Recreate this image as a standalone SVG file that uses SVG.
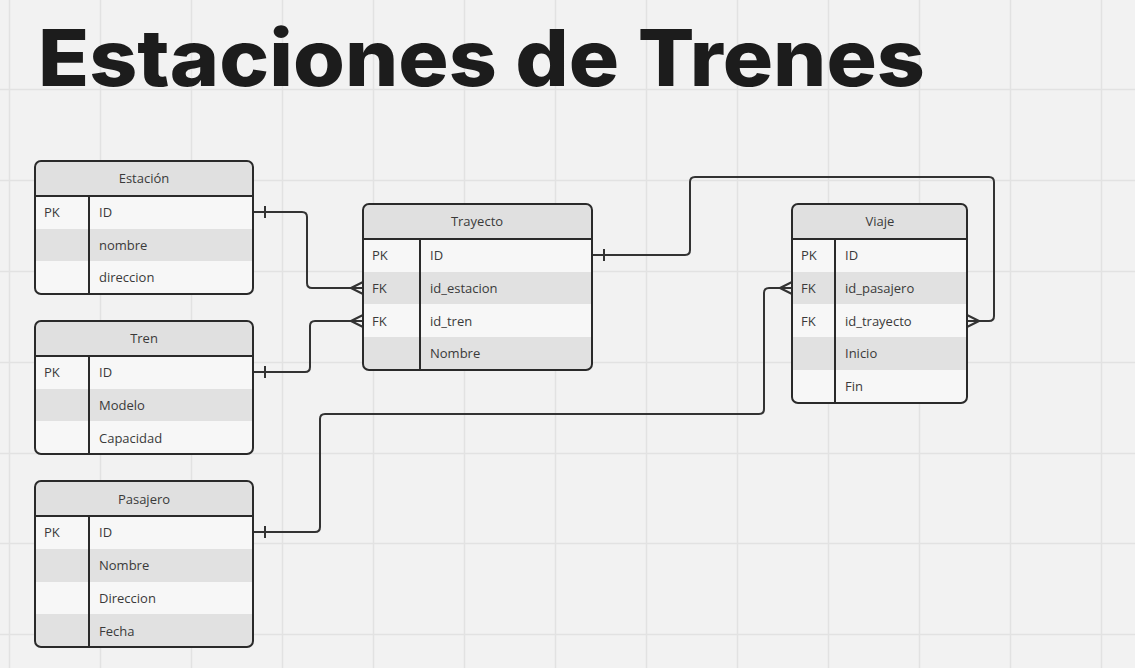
<svg xmlns="http://www.w3.org/2000/svg" width="1135" height="668" viewBox="0 0 1135 668">
<defs>
<style>
.grid{stroke:#e2e2e2;stroke-width:1.5}
.box{fill:none;stroke:#2a2a2a;stroke-width:2}
.hd{fill:#e0e0e0}
.rw{fill:#f7f7f7}
.rg{fill:#e1e1e1}
.sep{stroke:#2a2a2a;stroke-width:2}
.t{font-family:"Open Sans","Liberation Sans",sans-serif;font-size:13px;fill:#3a3a3a}
.th{font-family:"Open Sans","Liberation Sans",sans-serif;font-size:13px;fill:#3a3a3a;text-anchor:middle}
.ln{fill:none;stroke:#333;stroke-width:2;stroke-linejoin:round}
</style>
<clipPath id="cE"><rect x="35" y="161" width="218" height="133" rx="6"/></clipPath>
<clipPath id="cT"><rect x="35" y="321" width="218" height="133" rx="6"/></clipPath>
<clipPath id="cP"><rect x="35" y="481" width="218" height="166" rx="6"/></clipPath>
<clipPath id="cY"><rect x="363" y="204" width="229" height="166" rx="6"/></clipPath>
<clipPath id="cV"><rect x="792" y="204" width="175" height="199" rx="6"/></clipPath>
</defs>
<rect width="1135" height="668" fill="#f2f2f2"/>
<g id="grid">
<path class="grid" d="M9.5 0V668M100.5 0V668M191.5 0V668M282.5 0V668M373.5 0V668M464.5 0V668M555.5 0V668M646.5 0V668M737.5 0V668M828.5 0V668M919.5 0V668M1010.5 0V668M1101.5 0V668M0 89.5H1135M0 180.5H1135M0 271.5H1135M0 362.5H1135M0 453.5H1135M0 543.5H1135M0 634.5H1135"/>
</g>
<g id="title">
<text x="38" y="86" font-family="Inter,'Liberation Sans',sans-serif" font-weight="800" font-size="78" fill="#1c1c1c" textLength="887" lengthAdjust="spacingAndGlyphs">Estaciones de Trenes</text>
</g>

<g id="connectors">
<path class="ln" d="M253 212H302Q307 212 307 217V283Q307 288 312 288H363"/>
<path class="ln" d="M265 206V218M351 288L363 282M351 288L363 294"/>
<path class="ln" d="M253 372H305Q310 372 310 367V326Q310 321 315 321H363"/>
<path class="ln" d="M265 366V378M351 321L363 315M351 321L363 327"/>
<path class="ln" d="M592 255H685Q690 255 690 250V182Q690 177 695 177H989Q994 177 994 182V316Q994 321 989 321H967"/>
<path class="ln" d="M604 249V261M979 321L967 315M979 321L967 327"/>
<path class="ln" d="M253 532H315Q320 532 320 527V419Q320 414 325 414H759Q764 414 764 409V293Q764 288 769 288H792"/>
<path class="ln" d="M265 526V538M780 288L792 282M780 288L792 294"/>
</g>

<g id="estacion">
<g clip-path="url(#cE)">
<rect class="hd" x="35" y="161" width="218" height="35"/>
<rect class="rw" x="35" y="196" width="218" height="33"/>
<rect class="rg" x="35" y="229" width="218" height="32"/>
<rect class="rw" x="35" y="261" width="218" height="33"/>
</g>
<line class="sep" x1="35" y1="196" x2="253" y2="196"/>
<line class="sep" x1="89" y1="196" x2="89" y2="294"/>
<rect class="box" x="35" y="161" width="218" height="133" rx="6"/>
<text class="th" x="144" y="183">Estación</text>
<text class="t" x="44" y="217">PK</text><text class="t" x="99" y="217">ID</text>
<text class="t" x="99" y="250">nombre</text>
<text class="t" x="99" y="282">direccion</text>
</g>

<g id="tren">
<g clip-path="url(#cT)">
<rect class="hd" x="35" y="321" width="218" height="35"/>
<rect class="rw" x="35" y="356" width="218" height="33"/>
<rect class="rg" x="35" y="389" width="218" height="32"/>
<rect class="rw" x="35" y="421" width="218" height="33"/>
</g>
<line class="sep" x1="35" y1="356" x2="253" y2="356"/>
<line class="sep" x1="89" y1="356" x2="89" y2="454"/>
<rect class="box" x="35" y="321" width="218" height="133" rx="6"/>
<text class="th" x="144" y="343">Tren</text>
<text class="t" x="44" y="377">PK</text><text class="t" x="99" y="377">ID</text>
<text class="t" x="99" y="410">Modelo</text>
<text class="t" x="99" y="443">Capacidad</text>
</g>

<g id="pasajero">
<g clip-path="url(#cP)">
<rect class="hd" x="35" y="481" width="218" height="35"/>
<rect class="rw" x="35" y="516" width="218" height="33"/>
<rect class="rg" x="35" y="549" width="218" height="33"/>
<rect class="rw" x="35" y="582" width="218" height="32"/>
<rect class="rg" x="35" y="614" width="218" height="33"/>
</g>
<line class="sep" x1="35" y1="516" x2="253" y2="516"/>
<line class="sep" x1="89" y1="516" x2="89" y2="647"/>
<rect class="box" x="35" y="481" width="218" height="166" rx="6"/>
<text class="th" x="144" y="504">Pasajero</text>
<text class="t" x="44" y="537">PK</text><text class="t" x="99" y="537">ID</text>
<text class="t" x="99" y="570">Nombre</text>
<text class="t" x="99" y="603">Direccion</text>
<text class="t" x="99" y="636">Fecha</text>
</g>

<g id="trayecto">
<g clip-path="url(#cY)">
<rect class="hd" x="363" y="204" width="229" height="35"/>
<rect class="rw" x="363" y="239" width="229" height="33"/>
<rect class="rg" x="363" y="272" width="229" height="32"/>
<rect class="rw" x="363" y="304" width="229" height="33"/>
<rect class="rg" x="363" y="337" width="229" height="33"/>
</g>
<line class="sep" x1="363" y1="239" x2="592" y2="239"/>
<line class="sep" x1="420" y1="239" x2="420" y2="370"/>
<rect class="box" x="363" y="204" width="229" height="166" rx="6"/>
<text class="th" x="477" y="226">Trayecto</text>
<text class="t" x="372" y="260">PK</text><text class="t" x="430" y="260">ID</text>
<text class="t" x="372" y="293">FK</text><text class="t" x="430" y="293">id_estacion</text>
<text class="t" x="372" y="326">FK</text><text class="t" x="430" y="326">id_tren</text>
<text class="t" x="430" y="358">Nombre</text>
</g>

<g id="viaje">
<g clip-path="url(#cV)">
<rect class="hd" x="792" y="204" width="175" height="35"/>
<rect class="rw" x="792" y="239" width="175" height="33"/>
<rect class="rg" x="792" y="272" width="175" height="32"/>
<rect class="rw" x="792" y="304" width="175" height="33"/>
<rect class="rg" x="792" y="337" width="175" height="33"/>
<rect class="rw" x="792" y="370" width="175" height="33"/>
</g>
<line class="sep" x1="792" y1="239" x2="967" y2="239"/>
<line class="sep" x1="835" y1="239" x2="835" y2="403"/>
<rect class="box" x="792" y="204" width="175" height="199" rx="6"/>
<text class="th" x="880" y="226">Viaje</text>
<text class="t" x="801" y="260">PK</text><text class="t" x="845" y="260">ID</text>
<text class="t" x="801" y="293">FK</text><text class="t" x="845" y="293">id_pasajero</text>
<text class="t" x="801" y="326">FK</text><text class="t" x="845" y="326">id_trayecto</text>
<text class="t" x="845" y="358">Inicio</text>
<text class="t" x="845" y="391">Fin</text>
</g>
</svg>
